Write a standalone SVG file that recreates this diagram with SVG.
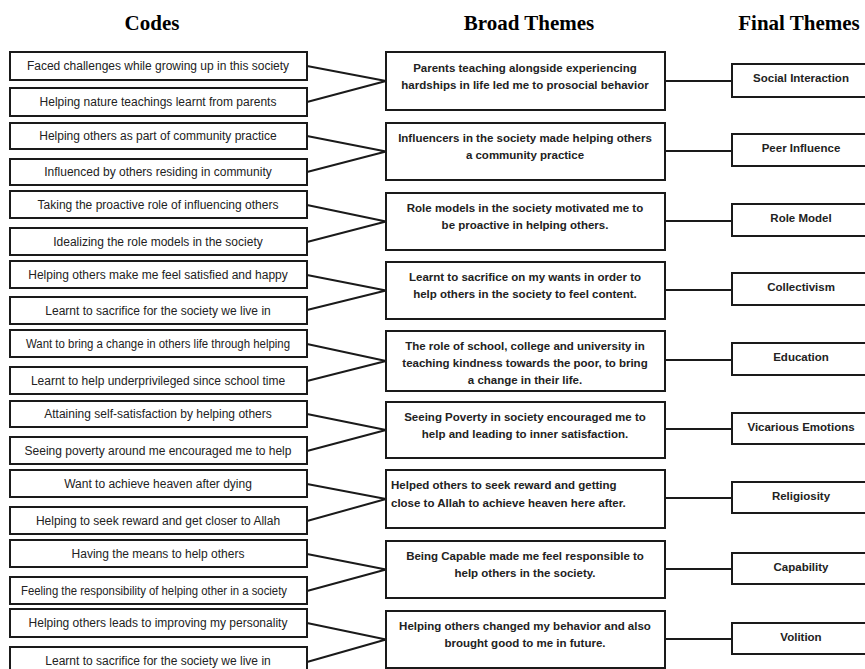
<svg xmlns="http://www.w3.org/2000/svg" width="865" height="669" viewBox="0 0 865 669">
<style>
.hd{font-family:"Liberation Serif","Times New Roman",serif;font-weight:bold;font-size:21px;text-anchor:middle;fill:#000}
.bx{fill:#fff;stroke:#1a1a1a;stroke-width:2}
.ct{font-family:"Liberation Sans",Arial,sans-serif;font-size:12px;text-anchor:middle;fill:#222}
.mt{font-family:"Liberation Sans",Arial,sans-serif;font-size:11.5px;font-weight:bold;text-anchor:middle;fill:#222}
.ml{font-family:"Liberation Sans",Arial,sans-serif;font-size:11.5px;font-weight:bold;fill:#222}
.ln{stroke:#1a1a1a;stroke-width:2;fill:none}
</style>
<rect width="865" height="669" fill="#fff"/>
<g id="headers">
<text class="hd" x="152" y="30">Codes</text>
<text class="hd" x="529" y="30">Broad Themes</text>
<text class="hd" x="799" y="30">Final Themes</text>
</g>
<g id="connectors">
<path class="ln" d="M307,66 L386,81 L307,102"/>
<path class="ln" d="M307,136 L386,151.5 L307,172"/>
<path class="ln" d="M307,205 L386,221.5 L307,242"/>
<path class="ln" d="M307,275 L386,290.5 L307,310"/>
<path class="ln" d="M307,344 L386,361 L307,381"/>
<path class="ln" d="M307,414 L386,430 L307,451"/>
<path class="ln" d="M307,484 L386,499 L307,521"/>
<path class="ln" d="M307,554 L386,569.5 L307,591"/>
<path class="ln" d="M307,623 L386,639.5 L307,662"/>
<path class="ln" d="M665,81 L732,81"/>
<path class="ln" d="M665,151 L732,151"/>
<path class="ln" d="M665,221 L732,221"/>
<path class="ln" d="M665,290 L732,290"/>
<path class="ln" d="M665,360 L732,360"/>
<path class="ln" d="M665,429 L732,429"/>
<path class="ln" d="M665,498 L732,498"/>
<path class="ln" d="M665,569 L732,569"/>
<path class="ln" d="M665,639 L732,639"/>
</g>
<g id="code1"><rect class="bx" x="10" y="52" width="297" height="28"/><text class="ct" x="158" y="70">Faced challenges while growing up in this society</text></g>
<g id="code2"><rect class="bx" x="10" y="88" width="297" height="28"/><text class="ct" x="158" y="106">Helping nature teachings learnt from parents</text></g>
<g id="code3"><rect class="bx" x="10" y="123" width="297" height="26"/><text class="ct" x="158" y="140">Helping others as part of community practice</text></g>
<g id="code4"><rect class="bx" x="10" y="159" width="297" height="26"/><text class="ct" x="158" y="176">Influenced by others residing in community</text></g>
<g id="code5"><rect class="bx" x="10" y="191" width="297" height="27"/><text class="ct" x="158" y="209">Taking the proactive role of influencing others</text></g>
<g id="code6"><rect class="bx" x="10" y="228" width="297" height="27"/><text class="ct" x="158" y="246">Idealizing the role models in the society</text></g>
<g id="code7"><rect class="bx" x="10" y="261" width="297" height="27"/><text class="ct" x="158" y="279">Helping others make me feel satisfied and happy</text></g>
<g id="code8"><rect class="bx" x="10" y="297" width="297" height="27"/><text class="ct" x="158" y="315">Learnt to sacrifice for the society we live in</text></g>
<g id="code9"><rect class="bx" x="10" y="330" width="297" height="27"/><text class="ct" x="158" y="348" textLength="264" lengthAdjust="spacingAndGlyphs">Want to bring a change in others life through helping</text></g>
<g id="code10"><rect class="bx" x="10" y="367" width="297" height="27"/><text class="ct" x="158" y="385">Learnt to help underprivileged since school time</text></g>
<g id="code11"><rect class="bx" x="10" y="401" width="297" height="26"/><text class="ct" x="158" y="418">Attaining self-satisfaction by helping others</text></g>
<g id="code12"><rect class="bx" x="10" y="437" width="297" height="27"/><text class="ct" x="158" y="455">Seeing poverty around me encouraged me to help</text></g>
<g id="code13"><rect class="bx" x="10" y="470" width="297" height="27"/><text class="ct" x="158" y="488">Want to achieve heaven after dying</text></g>
<g id="code14"><rect class="bx" x="10" y="507" width="297" height="27"/><text class="ct" x="158" y="525">Helping to seek reward and get closer to Allah</text></g>
<g id="code15"><rect class="bx" x="10" y="540" width="297" height="27"/><text class="ct" x="158" y="558">Having the means to help others</text></g>
<g id="code16"><rect class="bx" x="10" y="577" width="297" height="27"/><text class="ct" x="154" y="595" textLength="266" lengthAdjust="spacingAndGlyphs">Feeling the responsibility of helping other in a society</text></g>
<g id="code17"><rect class="bx" x="10" y="609" width="297" height="28"/><text class="ct" x="158" y="627">Helping others leads to improving my personality</text></g>
<g id="code18"><rect class="bx" x="10" y="647" width="297" height="28"/><text class="ct" x="158" y="665">Learnt to sacrifice for the society we live in</text></g>
<g id="broad1"><rect class="bx" x="386" y="52" width="279" height="58"/><text class="mt" x="525" y="72">Parents teaching alongside experiencing</text><text class="mt" x="525" y="89">hardships in life led me to prosocial behavior</text></g>
<g id="broad2"><rect class="bx" x="386" y="123" width="279" height="57"/><text class="mt" x="525" y="142">Influencers in the society made helping others</text><text class="mt" x="525" y="159">a community practice</text></g>
<g id="broad3"><rect class="bx" x="386" y="193" width="279" height="57"/><text class="mt" x="525" y="212">Role models in the society motivated me to</text><text class="mt" x="525" y="229">be proactive in helping others.</text></g>
<g id="broad4"><rect class="bx" x="386" y="262" width="279" height="57"/><text class="mt" x="525" y="281">Learnt to sacrifice on my wants in order to</text><text class="mt" x="525" y="298">help others in the society to feel content.</text></g>
<g id="broad5"><rect class="bx" x="386" y="331" width="279" height="60"/><text class="mt" x="525" y="350">The role of school, college and university in</text><text class="mt" x="525" y="367">teaching kindness towards the poor, to bring</text><text class="mt" x="525" y="384">a change in their life.</text></g>
<g id="broad6"><rect class="bx" x="386" y="402" width="279" height="56"/><text class="mt" x="525" y="421">Seeing Poverty in society encouraged me to</text><text class="mt" x="525" y="438">help and leading to inner satisfaction.</text></g>
<g id="broad7"><rect class="bx" x="386" y="470" width="279" height="58"/><text class="ml" x="391" y="489">Helped others to seek reward and getting</text><text class="ml" x="391" y="507">close to Allah to achieve heaven here after.</text></g>
<g id="broad8"><rect class="bx" x="386" y="541" width="279" height="57"/><text class="mt" x="525" y="560">Being Capable made me feel responsible to</text><text class="mt" x="525" y="577">help others in the society.</text></g>
<g id="broad9"><rect class="bx" x="386" y="611" width="279" height="57"/><text class="mt" x="525" y="630">Helping others changed my behavior and also</text><text class="mt" x="525" y="647">brought good to me in future.</text></g>
<g id="final1"><rect class="bx" x="732" y="64" width="138" height="33"/><text class="mt" x="801" y="82">Social Interaction</text></g>
<g id="final2"><rect class="bx" x="732" y="134" width="138" height="32"/><text class="mt" x="801" y="152">Peer Influence</text></g>
<g id="final3"><rect class="bx" x="732" y="204" width="138" height="32"/><text class="mt" x="801" y="222">Role Model</text></g>
<g id="final4"><rect class="bx" x="732" y="273" width="138" height="32"/><text class="mt" x="801" y="291">Collectivism</text></g>
<g id="final5"><rect class="bx" x="732" y="343" width="138" height="32"/><text class="mt" x="801" y="361">Education</text></g>
<g id="final6"><rect class="bx" x="732" y="413" width="138" height="31"/><text class="mt" x="801" y="431">Vicarious Emotions</text></g>
<g id="final7"><rect class="bx" x="732" y="482" width="138" height="31"/><text class="mt" x="801" y="500">Religiosity</text></g>
<g id="final8"><rect class="bx" x="732" y="553" width="138" height="31"/><text class="mt" x="801" y="571">Capability</text></g>
<g id="final9"><rect class="bx" x="732" y="623" width="138" height="31"/><text class="mt" x="801" y="641">Volition</text></g>
</svg>
